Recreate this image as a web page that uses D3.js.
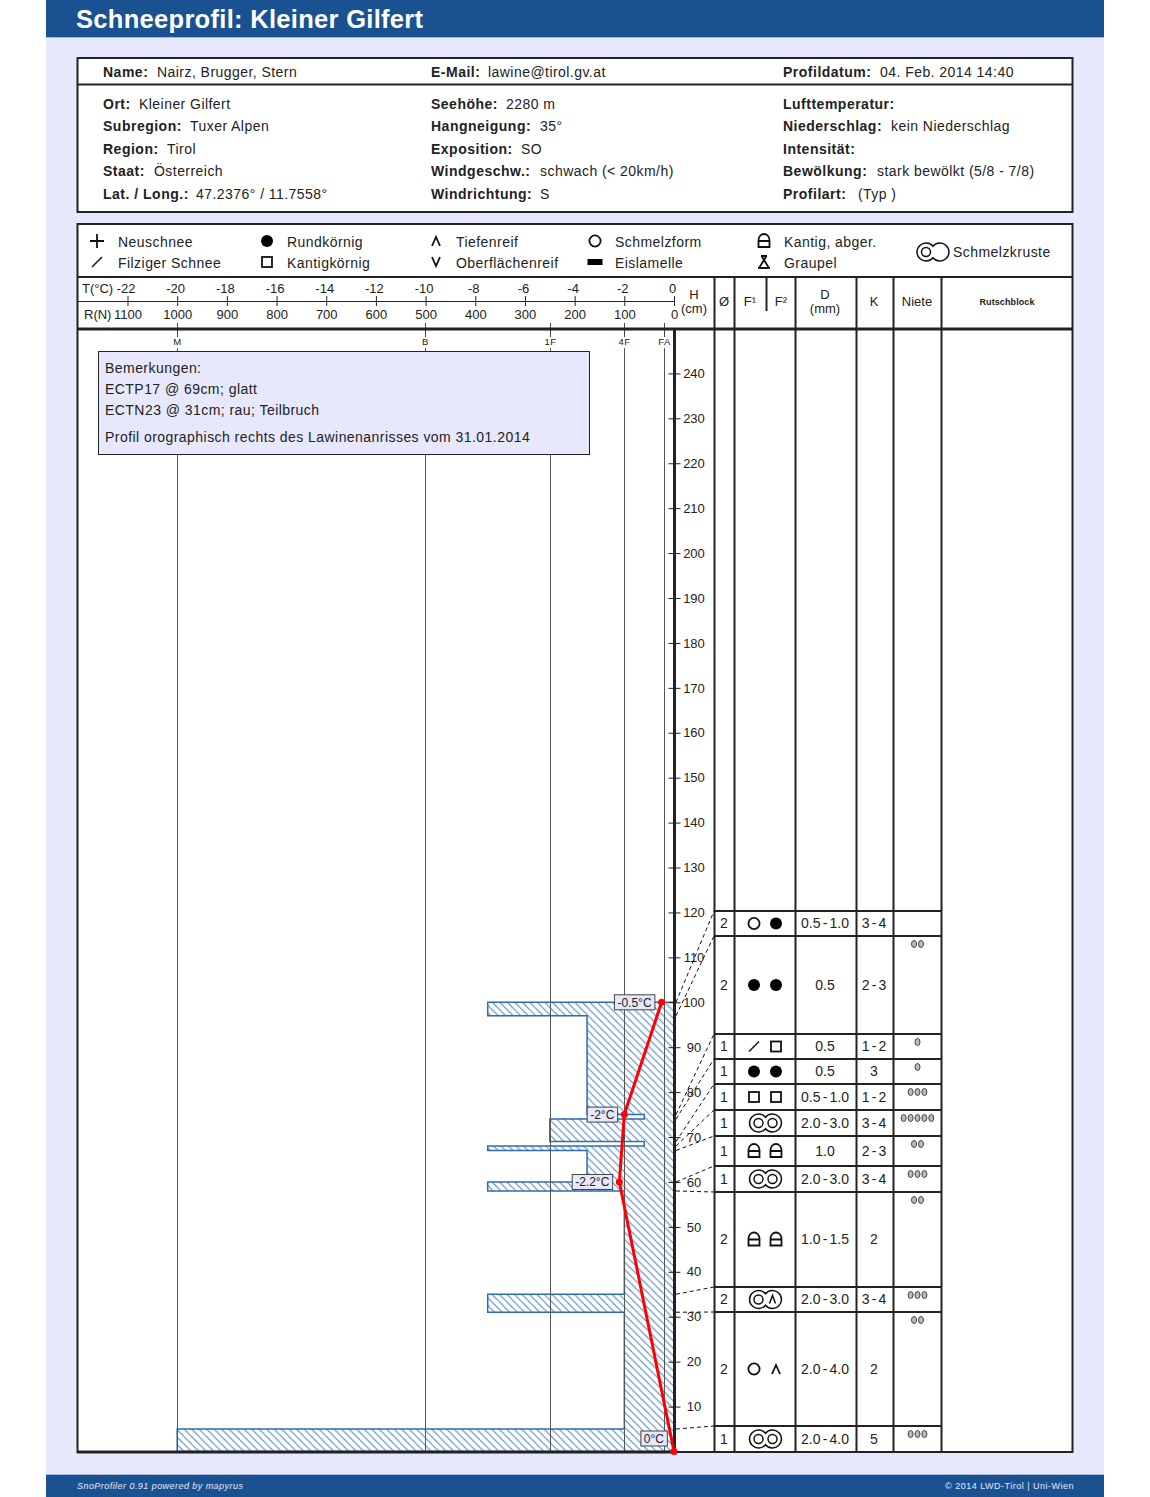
<!DOCTYPE html>
<html>
<head>
<meta charset="utf-8">
<script src="https://cdn.jsdelivr.net/npm/d3@7"></script>
<style>
html, body { margin: 0; padding: 0; background: #fff; }
svg { display: block; }
text { font-family: "Liberation Sans", Arial, sans-serif; font-size: 14px; fill: #222; letter-spacing: 0.45px; }
.lbl { font-weight: bold; letter-spacing: 0.5px; }
.small { font-size: 13px; letter-spacing: 0; }
.cell { letter-spacing: 0; word-spacing: -1.7px; }
</style>
</head>
<body>
<svg id="chart" width="1150" height="1497"></svg>
<script>
// profile info, one list per column
var infoLabels1 = ["Ort:", "Subregion:", "Region:", "Staat:", "Lat. / Long.:"];
var infoValues1 = ["Kleiner Gilfert", "Tuxer Alpen", "Tirol", "Österreich", "47.2376° / 11.7558°"];
var infoLabels2 = ["Seehöhe:", "Hangneigung:", "Exposition:", "Windgeschw.:", "Windrichtung:"];
var infoValues2 = ["2280 m", "35°", "SO", "schwach (< 20km/h)", "S"];
var infoLabels3 = ["Lufttemperatur:", "Niederschlag:", "Intensität:", "Bewölkung:", "Profilart:"];
var infoValues3 = ["", "kein Niederschlag", "", "stark bewölkt (5/8 - 7/8)", "(Typ )"];
var topLabels = ["Name:", "E-Mail:", "Profildatum:"];
var topValues = ["Nairz, Brugger, Stern", "lawine@tirol.gv.at", "04. Feb. 2014 14:40"];

var legendNames = ["Neuschnee", "Filziger Schnee", "Rundkörnig", "Kantigkörnig", "Tiefenreif", "Oberflächenreif", "Schmelzform", "Eislamelle", "Kantig, abger.", "Graupel"];
var legendSymbols = ["new", "felt", "round", "facet", "depth", "surface", "melt", "ice", "lock", "graupel"];

var remarks = ["Bemerkungen:", "ECTP17 @ 69cm; glatt", "ECTN23 @ 31cm; rau; Teilbruch", "Profil orographisch rechts des Lawinenanrisses vom 31.01.2014"];

var tempTicks = [-22, -20, -18, -16, -14, -12, -10, -8, -6, -4, -2, 0];
var hardTicks = [1100, 1000, 900, 800, 700, 600, 500, 400, 300, 200, 100, 0];
var heightTicks = d3.range(10, 241, 10);
var hardClassValues = [1000, 500, 250, 100, 20];
var hardClassNames = ["M", "B", "1F", "4F", "FA"];

// layers, top to bottom
var layerTop = [100, 97, 75, 74, 69, 68, 67, 60, 58, 35, 31, 5];
var layerBottom = [97, 75, 74, 69, 68, 67, 60, 58, 35, 31, 5, 0];
var layerHardness = [375, 175, 60, 250, 60, 375, 175, 375, 100, 375, 100, 1000];
var grainSize = ["2", "2", "1", "1", "1", "1", "1", "1", "2", "2", "2", "1"];
var grainF1 = ["melt", "round", "felt", "round", "facet", "crust", "lock", "crust", "lock", "crustDepth", "melt", "crust"];
var grainF2 = ["round", "round", "facet", "round", "facet", null, "lock", null, "lock", null, "depth", null];
var grainD = ["0.5 - 1.0", "0.5", "0.5", "0.5", "0.5 - 1.0", "2.0 - 3.0", "1.0", "2.0 - 3.0", "1.0 - 1.5", "2.0 - 3.0", "2.0 - 4.0", "2.0 - 4.0"];
var layerK = ["3 - 4", "2 - 3", "1 - 2", "3", "1 - 2", "3 - 4", "2 - 3", "3 - 4", "2", "3 - 4", "2", "5"];
var niete = [0, 2, 1, 1, 3, 5, 2, 3, 2, 3, 2, 3];

// temperature profile
var tempValues = [-0.5, -2, -2.2, 0];
var tempHeights = [100, 75, 60, 0];
var tempLabels = ["-0.5°C", "-2°C", "-2.2°C", "0°C"];

// table row edges on the page, they do not follow the height scale
var rowEdges = [911, 936, 1034, 1059, 1084, 1110, 1136, 1166, 1192, 1287, 1312, 1426, 1452];
var colEdges = [714, 734, 795, 856, 893, 941];

var svg = d3.select("#chart");
var DARK = "#222";
var LAV = "#e8e8fc";
var BLUE = "#1a5291";

var y = d3.scaleLinear().domain([0, 240]).range([1451.5, 373.4]);
var tempX = d3.scaleLinear().domain([-22, 0]).range([127.5, 674]);
var hardX = d3.scaleLinear().domain([1100, 0]).range([127.5, 674]);

// page background
svg.append("rect").attr("x", 46).attr("y", 0).attr("width", 1058).attr("height", 1497).attr("fill", LAV);
svg.append("rect").attr("x", 46).attr("y", 0).attr("width", 1058).attr("height", 37).attr("fill", BLUE);
svg.append("rect").attr("x", 46).attr("y", 37).attr("width", 1058).attr("height", 1).attr("fill", "#a9b9de");
svg.append("rect").attr("x", 46).attr("y", 1474).attr("width", 1058).attr("height", 1).attr("fill", "#a9b9de");
svg.append("rect").attr("x", 46).attr("y", 1475).attr("width", 1058).attr("height", 22).attr("fill", BLUE);
svg.append("text").attr("x", 76).attr("y", 28).style("font-size", "25.5px").style("font-weight", "bold").style("fill", "#fff").style("letter-spacing", "0.3px").text("Schneeprofil: Kleiner Gilfert");
svg.append("text").attr("x", 77).attr("y", 1489).style("font-size", "9px").style("font-style", "italic").style("fill", "#e8e8fc").text("SnoProfiler 0.91 powered by mapyrus");
svg.append("text").attr("x", 1074).attr("y", 1489).attr("text-anchor", "end").style("font-size", "9px").style("fill", "#e8e8fc").style("letter-spacing", "0.5px").text("© 2014 LWD-Tirol | Uni-Wien");

// white frames
svg.append("rect").attr("x", 77.5).attr("y", 58).attr("width", 995).attr("height", 154).attr("fill", "#fff").attr("stroke", DARK).attr("stroke-width", 2);
svg.append("rect").attr("x", 77.5).attr("y", 224).attr("width", 995).attr("height", 1228).attr("fill", "#fff");
hline(77, 1073, 84.5, 2);

function hline(x1, x2, yy, w) {
    svg.append("line").attr("x1", x1).attr("x2", x2).attr("y1", yy).attr("y2", yy).attr("stroke", DARK).attr("stroke-width", w);
}
function vline(xx, y1, y2, w) {
    svg.append("line").attr("x1", xx).attr("x2", xx).attr("y1", y1).attr("y2", y2).attr("stroke", DARK).attr("stroke-width", w);
}
function info(labels, values, lx, vx, yy) {
    labels.forEach(function (l, i) {
        svg.append("text").attr("class", "lbl").attr("x", lx).attr("y", yy[i]).text(l);
        svg.append("text").attr("x", vx[i]).attr("y", yy[i]).text(values[i]);
    });
}
info(topLabels.slice(0, 1), topValues.slice(0, 1), 103, [157], [77]);
info(topLabels.slice(1, 2), topValues.slice(1, 2), 431, [488], [77]);
info(topLabels.slice(2, 3), topValues.slice(2, 3), 783, [880], [77]);
var infoY = [109, 131, 154, 176, 199];
info(infoLabels1, infoValues1, 103, [139, 190, 167, 154, 196], infoY);
info(infoLabels2, infoValues2, 431, [506, 540, 521, 540, 540], infoY);
info(infoLabels3, infoValues3, 783, [0, 891, 0, 877, 858], infoY);

// grain symbols
function symbol(type, cx, cy) {
    var g = svg.append("g").attr("transform", "translate(" + cx + "," + cy + ")")
        .attr("fill", "none").attr("stroke", "#111").attr("stroke-width", 1.8);
    function p(d) { return g.append("path").attr("d", d); }
    function crust() {
        g.attr("stroke-width", 1.5);
        p("M0,-5.7A9,9 0 1 0 0,5.7A9,9 0 1 0 0,-5.7Z");
    }
    if (type == "new") p("M-7,0H7M0,-7V7");
    if (type == "felt") p("M-5,5L5,-5").attr("stroke-width", 1.4);
    if (type == "round") g.append("circle").attr("r", 6).attr("fill", "#000").attr("stroke", "none");
    if (type == "facet") g.append("rect").attr("x", -5).attr("y", -5).attr("width", 10).attr("height", 10);
    if (type == "melt") g.append("circle").attr("r", 5.6);
    if (type == "depth") p("M-4,5L0,-4L4,5");
    if (type == "surface") p("M-4,-5L0,4L4,-5");
    if (type == "ice") g.append("rect").attr("x", -7.5).attr("y", -3).attr("width", 15).attr("height", 6).attr("fill", "#000").attr("stroke", "none");
    if (type == "lock") p("M-5.5,6V-1A5.5,6 0 0 1 5.5,-1V6ZM-5.5,0H5.5");
    if (type == "graupel") p("M-3,-6H3M-2.5,-6L5,6M2.5,-6L-5,6M-6,6H6");
    if (type == "crust") {
        crust();
        g.append("circle").attr("cx", -7).attr("r", 4.5);
        g.append("circle").attr("cx", 7).attr("r", 4.5);
    }
    if (type == "crustDepth") {
        crust();
        g.append("circle").attr("cx", -7).attr("r", 4.5);
        p("M4,4L7,-4L10,4");
    }
    if (type == "crustLegend") {
        crust();
        g.append("circle").attr("cx", -7).attr("r", 4.5);
    }
}

// legend
var legendSymX = [97, 267, 436, 595, 764];
var legendTextX = [118, 287, 456, 615, 784];
legendNames.forEach(function (n, i) {
    var col = Math.floor(i / 2), row = i % 2;
    symbol(legendSymbols[i], legendSymX[col], row ? 262 : 241);
    svg.append("text").attr("x", legendTextX[col]).attr("y", row ? 268 : 247).text(n);
});
symbol("crustLegend", 933, 252);
svg.append("text").attr("x", 953).attr("y", 257).text("Schmelzkruste");

// hardness profile as one stepped outline
var defs = svg.append("defs");
var hatch = defs.append("pattern").attr("id", "hatch").attr("patternUnits", "userSpaceOnUse").attr("width", 7.5).attr("height", 7.5);
hatch.append("path").attr("d", "M0,0L7.5,7.5M-1,6.5L1,8.5M6.5,-1L8.5,1").attr("stroke", "#4a80ba").attr("stroke-width", 1);

var pts = [[hardX(0), y(layerBottom[layerBottom.length - 1])]];
for (var i = layerTop.length - 1; i >= 0; i--) {
    pts.push([hardX(layerHardness[i]), y(layerBottom[i])]);
    pts.push([hardX(layerHardness[i]), y(layerTop[i])]);
}
pts.push([hardX(0), y(layerTop[0])]);
svg.append("path").attr("d", d3.line()(pts) + "Z").attr("fill", "url(#hatch)").attr("stroke", "#2f6cab").attr("stroke-width", 1.5);

// hardness classes
hardClassValues.forEach(function (v, i) {
    var xx = Math.round(hardX(v) - 0.25) + 0.5;
    svg.append("line").attr("x1", xx).attr("x2", xx).attr("y1", 323).attr("y2", 337).attr("stroke", "#444");
    svg.append("line").attr("x1", xx).attr("x2", xx).attr("y1", 348).attr("y2", 1451).attr("stroke", "#555");
    svg.append("text").attr("x", xx).attr("y", 345).attr("text-anchor", "middle").style("font-size", "9.5px").text(hardClassNames[i]);
});

// remarks
svg.append("rect").attr("x", 98.5).attr("y", 351.5).attr("width", 491).attr("height", 103).attr("fill", LAV).attr("stroke", DARK);
var remarkY = [373, 394, 415, 442];
remarks.forEach(function (r, i) {
    svg.append("text").attr("x", 105).attr("y", remarkY[i]).text(r);
});

// header rows and grid lines
hline(77, 1073, 277, 2);
hline(77, 674, 301.5, 1.2);
hline(77, 1073, 329, 3);
vline(674.5, 329, 1452, 3);
colEdges.forEach(function (c) { vline(c + 0.5, 277, 1452, 2); });
vline(766.5, 277, 311, 2);

// scales above the profile
var tempAxis = d3.axisTop(tempX).tickValues(tempTicks).tickSize(5).tickPadding(3).tickFormat(function (d) { return String(d); });
var hardAxis = d3.axisBottom(hardX).tickValues(hardTicks).tickSize(5).tickPadding(4).tickFormat(function (d) { return String(d); });
var tg = svg.append("g").attr("transform", "translate(0,301)").call(tempAxis);
var rg = svg.append("g").attr("transform", "translate(0,301)").call(hardAxis);
[tg, rg].forEach(function (a) {
    a.select(".domain").remove();
    a.selectAll("line").attr("stroke", "#222");
    a.attr("font-family", null).attr("font-size", null);
    a.selectAll("text").attr("class", "small").attr("fill", null);
});
tg.selectAll("text").attr("dx", -2);
svg.append("text").attr("class", "small").attr("x", 82).attr("y", 293).text("T(°C)");
svg.append("text").attr("class", "small").attr("x", 84).attr("y", 319).text("R(N)");

// height axis
var hg = svg.append("g").attr("transform", "translate(674.5,0)").call(d3.axisRight(y).tickValues(heightTicks).tickSize(6).tickPadding(4));
hg.select(".domain").remove();
hg.attr("font-family", null).attr("font-size", null);
hg.selectAll("line").attr("x1", -6).attr("stroke", "#222");
hg.selectAll("text").attr("x", 19.5).attr("text-anchor", "middle").attr("class", "small").attr("fill", null);

function center(str, xx, yy, cls) {
    return svg.append("text").attr("class", cls).attr("x", xx).attr("y", yy).attr("text-anchor", "middle").text(str);
}
center("H", 694, 299, "small"); center("(cm)", 694, 313, "small");
center("Ø", 724, 306, "small"); center("F¹", 750, 306, "small"); center("F²", 781, 306, "small");
center("D", 825, 299, "small"); center("(mm)", 825, 313, "small");
center("K", 874, 306, "small"); center("Niete", 917, 306, "small");
center("Rutschblock", 1007, 305).style("font-size", "9px").style("font-weight", "bold").style("letter-spacing", "0.1px");

// lines from layer boundaries to the table
var boundaries = layerTop.concat([0]);
svg.selectAll("line.conn").data(boundaries).enter().append("line").attr("class", "conn")
    .attr("x1", 676).attr("y1", function (d) { return y(d); })
    .attr("x2", colEdges[0]).attr("y2", function (d, i) { return rowEdges[i]; })
    .attr("stroke", "#111").attr("stroke-dasharray", "4,3");

// table
rowEdges.forEach(function (e) { hline(colEdges[0], colEdges[5], e, 2); });
grainSize.forEach(function (g, i) {
    var t = rowEdges[i], b = rowEdges[i + 1], c = (t + b) / 2;
    center(g, 724, c + 4.5);
    center(grainD[i], 825, c + 4.5, "cell");
    center(layerK[i], 874, c + 4.5, "cell");
    if (grainF2[i]) {
        symbol(grainF1[i], 754, c);
        symbol(grainF2[i], 776, c);
    } else {
        symbol(grainF1[i], 765.5, c);
    }
    for (var n = 0; n < niete[i]; n++) {
        svg.append("ellipse").attr("cx", 917.5 + (n - (niete[i] - 1) / 2) * 6.9).attr("cy", t + 8)
            .attr("rx", 2.5).attr("ry", 3.5).attr("fill", "#bbb").attr("stroke", "#444");
    }
});

// frame goes over the table ends
svg.append("rect").attr("x", 77.5).attr("y", 224).attr("width", 995).attr("height", 1228).attr("fill", "none").attr("stroke", DARK).attr("stroke-width", 2);
hline(77, 674, 1452, 3);

// temperature line
var tempPts = tempValues.map(function (v, i) { return [tempX(v), y(tempHeights[i])]; });
svg.append("path").attr("d", d3.line()(tempPts)).attr("fill", "none").attr("stroke", "#f00").attr("stroke-width", 3);
tempPts.forEach(function (p, i) {
    svg.append("circle").attr("cx", p[0]).attr("cy", p[1]).attr("r", 3.5).attr("fill", "#f00");
    var cy = i == 3 ? p[1] - 13 : p[1];
    var t = svg.append("text").attr("x", p[0] - 10).attr("y", cy + 4.5).attr("text-anchor", "end").style("font-size", "12px").style("letter-spacing", "0px").text(tempLabels[i]);
    var b = t.node().getBBox();
    svg.insert("rect", function () { return t.node(); }).attr("x", b.x - 3).attr("y", cy - 7.5).attr("width", b.width + 6).attr("height", 15)
        .attr("fill", LAV).attr("stroke", "#444");
});
</script>
</body>
</html>
